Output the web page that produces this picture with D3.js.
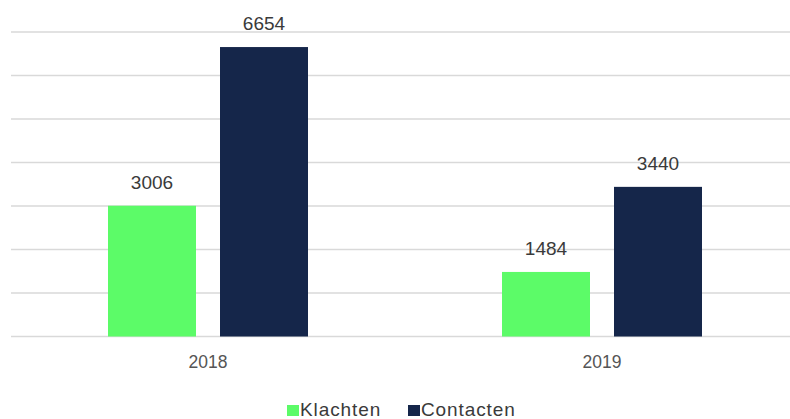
<!DOCTYPE html>
<html>
<head>
<meta charset="utf-8">
<script src="https://cdn.jsdelivr.net/npm/d3@7/dist/d3.min.js"></script>
<style>
  html, body { margin: 0; padding: 0; background: #fff; }
  svg { display: block; }
</style>
</head>
<body>
<svg id="chart" width="790" height="419"></svg>
<script>
// Chart data
const years = ["2018", "2019"];
const seriesNames = ["Klachten", "Contacten"];
const klachten = [3006, 1484];
const contacten = [6654, 3440];
const yTicks = [0, 1000, 2000, 3000, 4000, 5000, 6000, 7000];
const colors = ["#5cfb68", "#15264a"];

const svg = d3.select("#chart");
const W = 790;
const fontFamily = "'Liberation Sans', Arial, sans-serif";

const x = d3.scaleBand().domain(years).range([11, 799]);
const y = d3.scaleLinear().domain([0, 7000]).range([336.5, 32]);

// Two bars per year, 88px wide with a 24px gap between them
const barW = 88, barGap = 24;
const groupW = 2 * barW + barGap;
const inner = d3.scaleBand().domain(seriesNames)
  .range([-groupW / 2, groupW / 2])
  .paddingInner(barGap / (barW + barGap));

// Gridlines
svg.append("g").selectAll("line")
  .data(yTicks)
  .join("line")
  .attr("x1", 11).attr("x2", W)
  .attr("y1", d => y(d)).attr("y2", d => y(d))
  .attr("stroke", "#d9d9d9")
  .attr("stroke-width", 1.5);

const rows = years.map((yr, i) => ({ year: yr, values: [klachten[i], contacten[i]] }));

const groups = svg.append("g").selectAll("g")
  .data(rows)
  .join("g")
  .attr("transform", d => `translate(${x(d.year) + x.bandwidth() / 2},0)`);

groups.selectAll("rect")
  .data(d => d.values.map((v, k) => ({ name: seriesNames[k], value: v, k })))
  .join("rect")
  .attr("x", d => inner(d.name))
  .attr("width", inner.bandwidth())
  .attr("y", d => y(d.value))
  .attr("height", d => y(0) - y(d.value))
  .attr("fill", d => colors[d.k]);

groups.selectAll("text.val")
  .data(d => d.values.map((v, k) => ({ name: seriesNames[k], value: v })))
  .join("text")
  .attr("class", "val")
  .attr("x", d => inner(d.name) + inner.bandwidth() / 2)
  .attr("y", d => y(d.value) - 17)
  .attr("text-anchor", "middle")
  .attr("font-family", fontFamily)
  .attr("font-size", 19)
  .attr("fill", "#3a3a3a")
  .text(d => d.value);

// Category axis labels
const xAxis = d3.axisBottom(x).tickSize(0).tickPadding(0);
const gx = svg.append("g").attr("transform", `translate(0,${y(0)})`).call(xAxis);
gx.select(".domain").remove();
gx.selectAll("text")
  .attr("y", 31.5)
  .attr("dy", 0)
  .attr("font-family", fontFamily)
  .attr("font-size", 17.5)
  .attr("fill", "#555");

// Legend
const legend = svg.append("g").attr("transform", "translate(287,416)");
const legendX = [0, 121];
seriesNames.forEach((name, i) => {
  const g = legend.append("g").attr("transform", `translate(${legendX[i]},0)`);
  g.append("rect").attr("x", 0).attr("y", -11).attr("width", 12).attr("height", 11).attr("fill", colors[i]);
  g.append("text")
    .attr("x", 13).attr("y", 0)
    .attr("font-family", fontFamily)
    .attr("font-size", 19)
    .attr("letter-spacing", 0.9)
    .attr("fill", "#3a3a3a")
    .text(name);
});
</script>
</body>
</html>
